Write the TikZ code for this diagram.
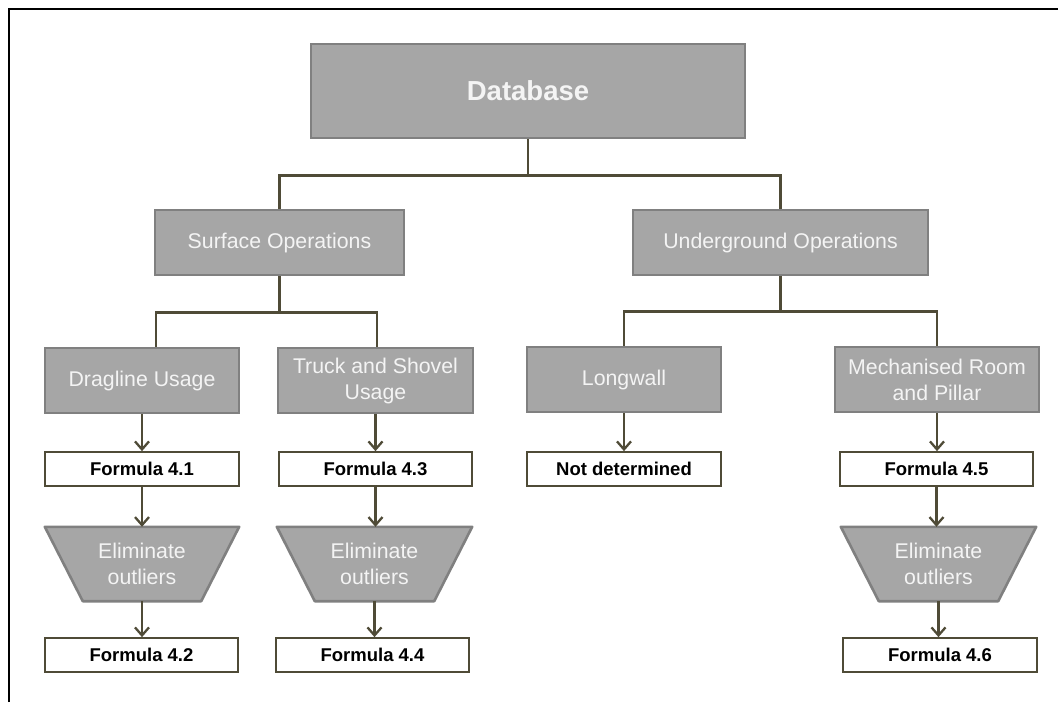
\documentclass[tikz,border=0pt]{standalone}
\usepackage{fontspec}
\setmainfont{Liberation Sans}
\usetikzlibrary{arrows.meta,calc,backgrounds}
\definecolor{lineC}{RGB}{79,75,55}
\definecolor{boxfill}{RGB}{166,166,166}
\definecolor{boxedge}{RGB}{128,128,128}
\definecolor{boxtext}{RGB}{244,244,244}
\begin{document}
\begin{tikzpicture}[x=1pt,y=-1pt,
 graybox/.style={draw=boxedge, fill=boxfill, line width=2.8pt, text=boxtext, inner sep=0pt, minimum height=65pt, align=center, font=\fontsize{21.3}{26}\selectfont},
 formbox/.style={draw=lineC, fill=white, line width=1.7pt, inner sep=0pt, minimum height=34pt, minimum width=194pt, font=\bfseries\fontsize{18.5}{20}\selectfont},
 trapbox/.style={inner sep=0pt, minimum width=195pt, minimum height=74pt, text=boxtext, align=center, font=\fontsize{21.3}{26}\selectfont},
 trapshape/.style={draw=boxedge, fill=boxfill, line width=2.6pt, line join=round},
 conn/.style={draw=lineC, line width=2.3pt},
 arr/.style={conn, -{Straight Barb[length=8pt,width=14pt]}}
]
\useasboundingbox (0,0) rectangle (1058,702);
\draw[line width=2.2pt] (9,702) -- (9,9) -- (1058,9);

% level 0
\node[graybox, minimum width=434pt, minimum height=94pt, font=\bfseries\fontsize{27.5}{30}\selectfont] (db) at (528,91) {Database};
% level 1
\node[graybox, minimum width=249pt] (surf) at (279.5,242.5) {Surface Operations};
\node[graybox, minimum width=295pt] (under) at (780.5,242.5) {Underground Operations};
% level 2
\node[graybox, minimum width=194pt] (drag) at (142,380.5) {Dragline Usage};
\node[graybox, minimum width=195pt] (truck) at (375.5,380.5) {Truck and Shovel\\Usage};
\node[graybox, minimum width=194pt] (long) at (624,379.5) {Longwall};
\node[graybox, minimum width=204pt] (mech) at (937,379.5) {Mechanised Room\\and Pillar};
% formulas
\node[formbox] (f41) at (142,469) {Formula 4.1};
\node[formbox, minimum width=193pt] (f43) at (375.5,469) {Formula 4.3};
\node[formbox] (nd) at (624,469) {Not determined};
\node[formbox, minimum width=193pt] (f45) at (936.5,469) {Formula 4.5};
% trapezia
\node[trapbox, minimum width=194pt] (el1) at (142,564) {Eliminate\\outliers};
\node[trapbox] (el2) at (374.5,564) {Eliminate\\outliers};
\node[trapbox] (el3) at (938.5,564) {Eliminate\\outliers};
\begin{scope}[on background layer]
\foreach \t in {el1,el2,el3}
  \path[trapshape] (\t.north west) -- (\t.north east) -- ($(\t.south east)+(-38,0)$) -- ($(\t.south west)+(38,0)$) -- cycle;
\end{scope}
% final formulas
\node[formbox, minimum width=193pt] (f42) at (141.5,655) {Formula 4.2};
\node[formbox, minimum width=193pt] (f44) at (372.5,655) {Formula 4.4};
\node[formbox] (f46) at (940,655) {Formula 4.6};

% tree connectors
\coordinate (bus0) at ($(db.south)+(0,36)$);
\draw[conn] (db.south) -- (bus0);
\draw[conn] (surf.north) |- (bus0) -| (under.north);
\coordinate (bus1) at ($(surf.south)+(0,36)$);
\draw[conn] (surf.south) -- (bus1);
\draw[conn] ($(drag.north)+(14,0)$) |- (bus1) -| ($(truck.north)+(1.5,0)$);
\coordinate (bus2) at ($(under.south)+(0,35)$);
\draw[conn] (under.south) -- (bus2);
\draw[conn] (long.north) |- (bus2) -| (mech.north);

% arrows
\draw[arr] (drag.south) -- (drag.south |- f41.north);
\draw[arr] (truck.south) -- (truck.south |- f43.north);
\draw[arr] (long.south) -- (long.south |- nd.north);
\draw[arr] (mech.south) -- (mech.south |- f45.north);
\draw[arr] (f41.south) -- (f41.south |- el1.north);
\draw[arr] (f43.south) -- (f43.south |- el2.north);
\draw[arr] (f45.south) -- (f45.south |- el3.north);
\draw[arr] (el1.south) -- (el1.south |- f42.north);
\draw[arr] (el2.south) -- (el2.south |- f44.north);
\draw[arr] (el3.south) -- (el3.south |- f46.north);
\end{tikzpicture}
\end{document}
